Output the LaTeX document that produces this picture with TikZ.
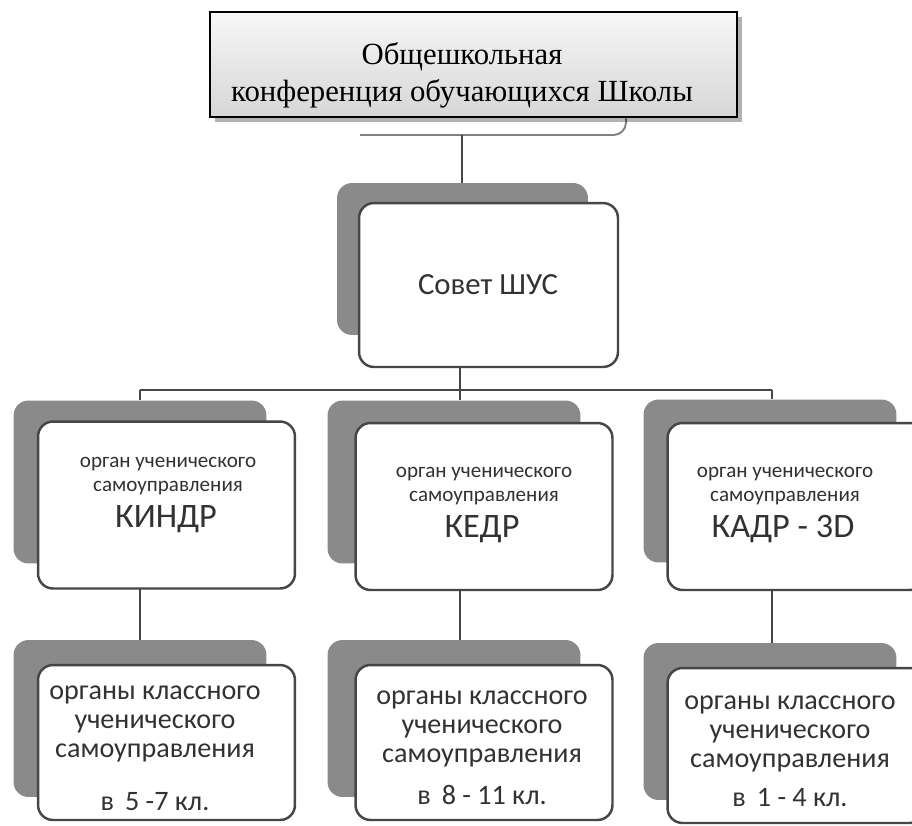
\documentclass[tikz,border=0pt]{standalone}
\usepackage{fontspec}
\setmainfont{Liberation Serif}
\newfontfamily\boxfont{Carlito}
\usetikzlibrary{positioning,shadows}

\definecolor{backgray}{RGB}{138,138,138}
\definecolor{linegray}{RGB}{70,70,70}
\definecolor{inkgray}{RGB}{50,50,50}

\begin{document}
\begin{tikzpicture}[x=0.02cm,y=-0.02cm]
\useasboundingbox (0,0) rectangle (912,825);
\clip (0,0) rectangle (912,825);
\begin{scope}[every node/.style={inner sep=0pt},
  topbox/.style={draw=black,line width=0.9pt,top color=gray!6,bottom color=gray!32,
    minimum width=10.54cm,minimum height=2.1cm,
    drop shadow={shadow xshift=3pt,shadow yshift=-3pt,opacity=0.3,fill=black}},
  backbox/.style={fill=backgray,rounded corners=0.3cm,minimum width=5.06cm,minimum height=3.26cm},
  frontbox/.style={draw=linegray,line width=1.4pt,fill=white,rounded corners=0.3cm,minimum width=5.14cm,minimum height=3.34cm},
  lowback/.style={backbox,minimum height=3.14cm},
  lowfront/.style={frontbox,minimum height=3.1cm},
  small/.style={font=\boxfont\fontsize{12}{13.6}\selectfont,text=inkgray,align=center},
  big/.style={font=\boxfont\fontsize{19.5}{21}\selectfont,text=inkgray,anchor=base},
  lowtxt/.style={font=\boxfont\fontsize{16}{16.6}\selectfont,text=inkgray,align=center},
  link/.style={draw=linegray,line width=1.6pt}]

% hidden box under the conference box
\coordinate (stem) at (462,135);
\draw[draw=gray,line width=1.1pt,rounded corners=0.25cm] (360,135) -- (626,135) -- (626,105);
\node[topbox] (conf) at (473.5,64.5) {};
\node[align=center,font=\fontsize{17.5}{21}\selectfont] (confT) at (462,75) {Общешкольная\\конференция обучающихся Школы};

% Bus coordinates
\coordinate (bus) at (460,390);
\coordinate (busL) at (140,390);
\coordinate (busR) at (772,390);

% Back boxes
\node[backbox,minimum height=3.04cm,minimum width=5.02cm] (sovB) at (462.5,259) {};
\node[backbox] (kindrB) at (140,482) {};
\node[backbox] (kedrB) at (454,482) {};
\node[backbox] (kadrB) at (770,481) {};
\node[lowback] (kl1B) at (140,718.5) {};
\node[lowback] (kl2B) at (454,718.5) {};
\node[lowback] (kl3B) at (770,721.5) {};

% Links
\draw[link] (stem) -- (stem |- sovB.north);
\draw[link] (busL) -- (busR);
\draw[link] (busL) -- (busL |- kindrB.north);
\draw[link] (busR) -- (busR |- kadrB.north);
\draw[link] (bus |- 0,367) -- (bus |- kedrB.north);
\draw[link] (busL |- 0,588) -- (busL |- kl1B.north);
\draw[link] (bus |- 0,590) -- (bus |- kl2B.north);
\draw[link] (busR |- 0,590) -- (busR |- kl3B.north);

% Front boxes
\node[frontbox,minimum width=5.18cm,minimum height=3.28cm] (sov) at (488.5,285) {};
\node[frontbox] (kindr) at (166.5,505) {};
\node[frontbox] (kedr) at (484,506.5) {};
\node[frontbox] (kadr) at (796,506.5) {};
\node[lowfront] (kl1) at (166.5,742.5) {};
\node[lowfront] (kl2) at (484,742.5) {};
\node[lowfront] (kl3) at (796,745.5) {};

% Texts
\node[font=\boxfont\fontsize{17.5}{19}\selectfont,text=inkgray] (sovT) at (488,285) {Совет ШУС};
\node[small] (kindrT) at (168,476) {орган ученического\\самоуправления};
\node[big] (kindrN) at (166,527) {КИНДР};
\node[small] (kedrT) at (484,486) {орган ученического\\самоуправления};
\node[big] (kedrN) at (482,537) {КЕДР};
\node[small] (kadrT) at (785,486) {орган ученического\\самоуправления};
\node[big] (kadrN) at (783,537) {КАДР - 3D};
\node[lowtxt] (kl1T) at (155,724) {органы классного\\ученического\\самоуправления};
\node[lowtxt,anchor=base] (kl1N) at (155,810) {в\, 5 -7 кл.};
\node[lowtxt] (kl2T) at (482,729) {органы классного\\ученического\\самоуправления};
\node[lowtxt,anchor=base] (kl2N) at (482,804) {в\, 8 - 11 кл.};
\node[lowtxt] (kl3T) at (790,734) {органы классного\\ученического\\самоуправления};
\node[lowtxt,anchor=base] (kl3N) at (790,806) {в\, 1 - 4 кл.};

\end{scope}
\end{tikzpicture}
\end{document}
